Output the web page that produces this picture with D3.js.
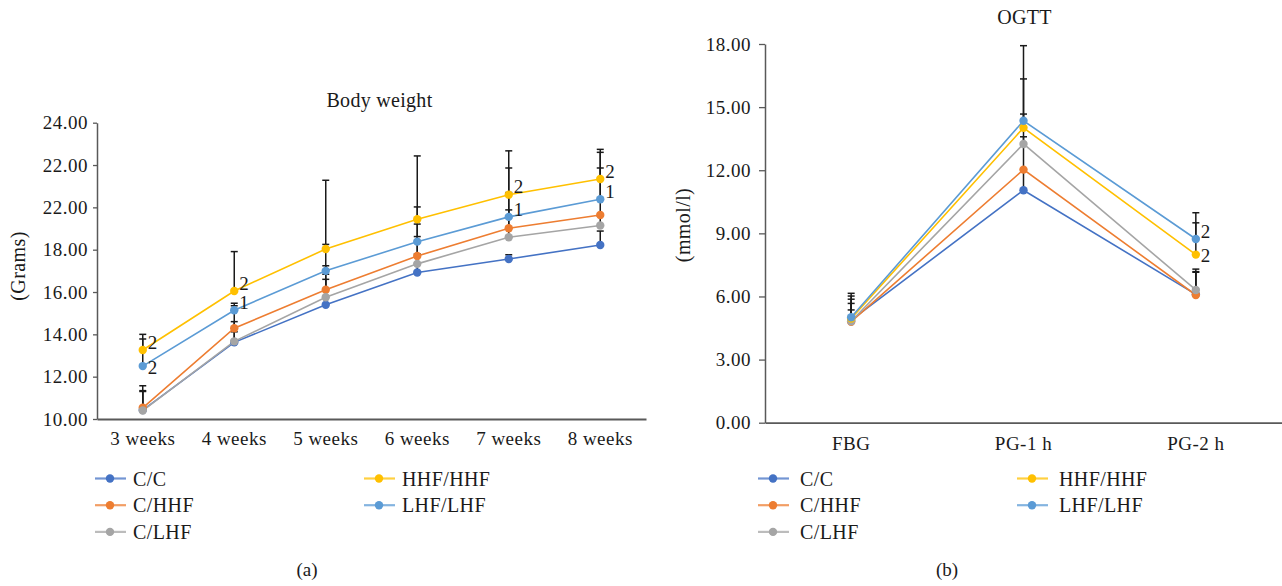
<!DOCTYPE html>
<html>
<head>
<meta charset="utf-8">
<script src="https://cdn.jsdelivr.net/npm/d3@7"></script>
<style>
  html, body { margin: 0; padding: 0; background: #fff; }
  svg { display: block; }
  svg text { font-family: "Liberation Serif", "Times New Roman", serif !important; }
</style>
</head>
<body>
<svg id="chart" width="1282" height="586"></svg>
<script>
// ---------- Data ----------
const seriesNames = ["C/C", "C/HHF", "C/LHF", "HHF/HHF", "LHF/LHF"];
const seriesColors = ["#4472C4", "#ED7D31", "#A5A5A5", "#FFC000", "#5B9BD5"];

// Body weight (a)
const weeks = ["3 weeks", "4 weeks", "5 weeks", "6 weeks", "7 weeks", "8 weeks"];
const bwCC    = [10.42, 13.62, 15.40, 16.92, 17.56, 18.22];
const bwCHHF  = [10.53, 14.29, 16.11, 17.70, 19.01, 19.64];
const bwCLHF  = [10.40, 13.67, 15.75, 17.33, 18.59, 19.14];
const bwHHF   = [13.26, 16.05, 18.03, 19.44, 20.60, 21.34];
const bwLHF   = [12.50, 15.14, 17.00, 18.38, 19.55, 20.38];
const bwCCErr   = [0.92, 0.50, 1.20, 0.88, 0.20, 0.66];
const bwCHHFErr = [1.04, 1.06, 1.13, 1.51, 1.69, 2.22];
const bwCLHFErr = [0.90, 0.93, 1.09, 1.29, 1.29, 0.45];
const bwHHFErr  = [0.74, 1.86, 3.25, 2.99, 2.07, 1.40];
const bwLHFErr  = [1.28, 0.33, 1.25, 1.64, 2.31, 2.22];
const bwHHFLabels = ["2", "2", "", "", "2", "2"];
const bwLHFLabels = ["2", "1", "", "", "1", "1"];
const bwTickValues = [10, 12, 14, 16, 18, 20, 22, 24];
const bwTickLabels = ["10.00", "12.00", "14.00", "16.00", "18.00", "22.00", "22.00", "24.00"];

// OGTT (b)
const tests = ["FBG", "PG-1 h", "PG-2 h"];
const ogCC    = [4.88, 11.05, 6.10];
const ogCHHF  = [4.80, 12.03, 6.07];
const ogCLHF  = [4.82, 13.25, 6.31];
const ogHHF   = [4.95, 14.02, 7.99];
const ogLHF   = [5.01, 14.35, 8.73];
const ogCCErr   = [0.99, 0.95, 1.05];
const ogCHHFErr = [0.87, 1.56, 1.11];
const ogCLHFErr = [0.54, 1.42, 0.99];
const ogHHFErr  = [1.07, 2.32, 1.51];
const ogLHFErr  = [1.14, 3.57, 1.25];
const ogHHFLabels = ["", "", "2"];
const ogLHFLabels = ["", "", "2"];
const ogTickValues = [0, 3, 6, 9, 12, 15, 18];
const ogTickLabels = ["0.00", "3.00", "6.00", "9.00", "12.00", "15.00", "18.00"];

// ---------- Drawing ----------
const svg = d3.select("#chart");
const TEXT = "#1a1a1a";
const AXIS = "#595959";

function drawChart(cfg) {
  const g = svg.append("g");
  const x = d3.scaleBand().domain(cfg.cats).range([cfg.x0, cfg.x1]).padding(0);
  const y = d3.scaleLinear().domain(cfg.yDomain).range([cfg.y0, cfg.y1]);
  const cx = d => x(d) + x.bandwidth() / 2;

  // y axis
  const yAxis = d3.axisLeft(y).tickValues(cfg.tickValues)
    .tickFormat((d, i) => cfg.tickLabels[i])
    .tickSize(cfg.tickSize).tickPadding(cfg.tickPad).tickSizeOuter(0);
  const ya = g.append("g").attr("transform", `translate(${cfg.x0},0)`).call(yAxis)
    .attr("font-family", null).attr("font-size", null);
  ya.select(".domain").attr("stroke", AXIS).attr("stroke-width", 1.5);
  ya.selectAll(".tick line").attr("stroke", AXIS).attr("stroke-width", 1.3);
  ya.selectAll(".tick text").attr("fill", TEXT).style("font-size", "19px")
    .style("letter-spacing", "0.5px");

  // x axis
  const xAxis = d3.axisBottom(x).tickSize(0).tickPadding(cfg.xPad).tickSizeOuter(0);
  const xa = g.append("g").attr("transform", `translate(0,${cfg.y0})`).call(xAxis)
    .attr("font-family", null).attr("font-size", null);
  xa.select(".domain").attr("stroke", AXIS).attr("stroke-width", 1.8);
  xa.selectAll(".tick text").attr("fill", TEXT).style("font-size", "19px")
    .style("letter-spacing", "0.5px");

  // error bars
  cfg.series.forEach(s => {
    s.values.forEach((v, i) => {
      const px = cx(cfg.cats[i]);
      const top = y(v + s.err[i]);
      g.append("line").attr("x1", px).attr("x2", px)
        .attr("y1", y(v)).attr("y2", top)
        .attr("stroke", "#1a1a1a").attr("stroke-width", 1.5);
      g.append("line").attr("x1", px - 3.5).attr("x2", px + 3.5)
        .attr("y1", top).attr("y2", top)
        .attr("stroke", "#1a1a1a").attr("stroke-width", 1.5);
    });
  });

  // lines + markers
  const line = d3.line().x((d, i) => cx(cfg.cats[i])).y(d => y(d));
  cfg.series.forEach(s => {
    g.append("path").datum(s.values).attr("d", line)
      .attr("fill", "none").attr("stroke", s.color).attr("stroke-width", 1.6);
  });
  cfg.series.forEach(s => {
    g.selectAll(null).data(s.values).enter().append("circle")
      .attr("cx", (d, i) => cx(cfg.cats[i])).attr("cy", d => y(d))
      .attr("r", 4.2).attr("fill", s.color);
  });

  // significance labels: above-right of the point, or level with it
  // when another labelled point sits just above
  cfg.series.forEach((s, si) => {
    if (!s.labels) return;
    s.labels.forEach((t, i) => {
      if (!t) return;
      const py = y(s.values[i]);
      const crowded = cfg.series.some((o, oi) => oi !== si && o.labels && o.labels[i] &&
        y(o.values[i]) < py && py - y(o.values[i]) < 18);
      g.append("text").attr("x", cx(cfg.cats[i]) + 5).attr("y", py + (crowded ? 1 : -8))
        .attr("dy", "0.35em").attr("fill", TEXT)
        .style("font-size", "19px").text(t);
    });
  });

  // title
  g.append("text").attr("x", cfg.titleX).attr("y", cfg.titleY)
    .attr("text-anchor", "middle").attr("fill", TEXT)
    .style("font-size", "20px").style("letter-spacing", "0.3px").text(cfg.title);

  // y label
  g.append("text").attr("transform", `translate(${cfg.yLabelX},${cfg.yLabelY}) rotate(-90)`)
    .attr("text-anchor", "middle").attr("dy", "0.35em").attr("fill", TEXT)
    .style("font-size", "20px").style("letter-spacing", "0.4px").text(cfg.yLabel);

  // legend
  const rows = [[0, 0], [0, 1], [0, 2], [1, 0], [1, 1]];
  cfg.series.forEach((s, i) => {
    const [col, row] = rows[i];
    const lx = cfg.legX[col];
    const ly = cfg.legY + row * 26.7;
    g.append("line").attr("x1", lx).attr("x2", lx + 31).attr("y1", ly).attr("y2", ly)
      .attr("stroke", s.color).attr("stroke-opacity", 0.75).attr("stroke-width", 2.2);
    g.append("circle").attr("cx", lx + 15).attr("cy", ly).attr("r", 4.2).attr("fill", s.color);
    g.append("text").attr("x", lx + cfg.legTextDx).attr("y", ly).attr("dy", "0.35em")
      .attr("fill", TEXT).style("font-size", "20px").style("letter-spacing", "0.4px").text(s.name);
  });

  // panel label
  g.append("text").attr("x", cfg.panelX).attr("y", 576).attr("text-anchor", "middle")
    .attr("fill", TEXT).style("font-size", "19px").text(cfg.panel);
}

const bwValues = [bwCC, bwCHHF, bwCLHF, bwHHF, bwLHF];
const bwErrs = [bwCCErr, bwCHHFErr, bwCLHFErr, bwHHFErr, bwLHFErr];
const bwLabs = [null, null, null, bwHHFLabels, bwLHFLabels];
drawChart({
  cats: weeks, x0: 97, x1: 646, y0: 419, y1: 122.7, yDomain: [10, 24],
  tickValues: bwTickValues, tickLabels: bwTickLabels, tickSize: 4, tickPad: 5, xPad: 13,
  series: seriesNames.map((n, i) => ({ name: n, color: seriesColors[i], values: bwValues[i], err: bwErrs[i], labels: bwLabs[i] })),
  title: "Body weight", titleX: 379.5, titleY: 107,
  yLabel: "(Grams)", yLabelX: 18, yLabelY: 266,
  legX: [95, 364], legY: 478.5, legTextDx: 38, panel: "(a)", panelX: 307
});

const ogValues = [ogCC, ogCHHF, ogCLHF, ogHHF, ogLHF];
const ogErrs = [ogCCErr, ogCHHFErr, ogCLHFErr, ogHHFErr, ogLHFErr];
const ogLabs = [null, null, null, ogHHFLabels, ogLHFLabels];
drawChart({
  cats: tests, x0: 765, x1: 1282, y0: 422.7, y1: 44, yDomain: [0, 18],
  tickValues: ogTickValues, tickLabels: ogTickLabels, tickSize: 6, tickPad: 8, xPad: 14,
  series: seriesNames.map((n, i) => ({ name: n, color: seriesColors[i], values: ogValues[i], err: ogErrs[i], labels: ogLabs[i] })),
  title: "OGTT", titleX: 1024.5, titleY: 24,
  yLabel: "(mmol/l)", yLabelX: 683, yLabelY: 225,
  legX: [758, 1017], legY: 478.5, legTextDx: 42, panel: "(b)", panelX: 947
});
</script>
</body>
</html>
